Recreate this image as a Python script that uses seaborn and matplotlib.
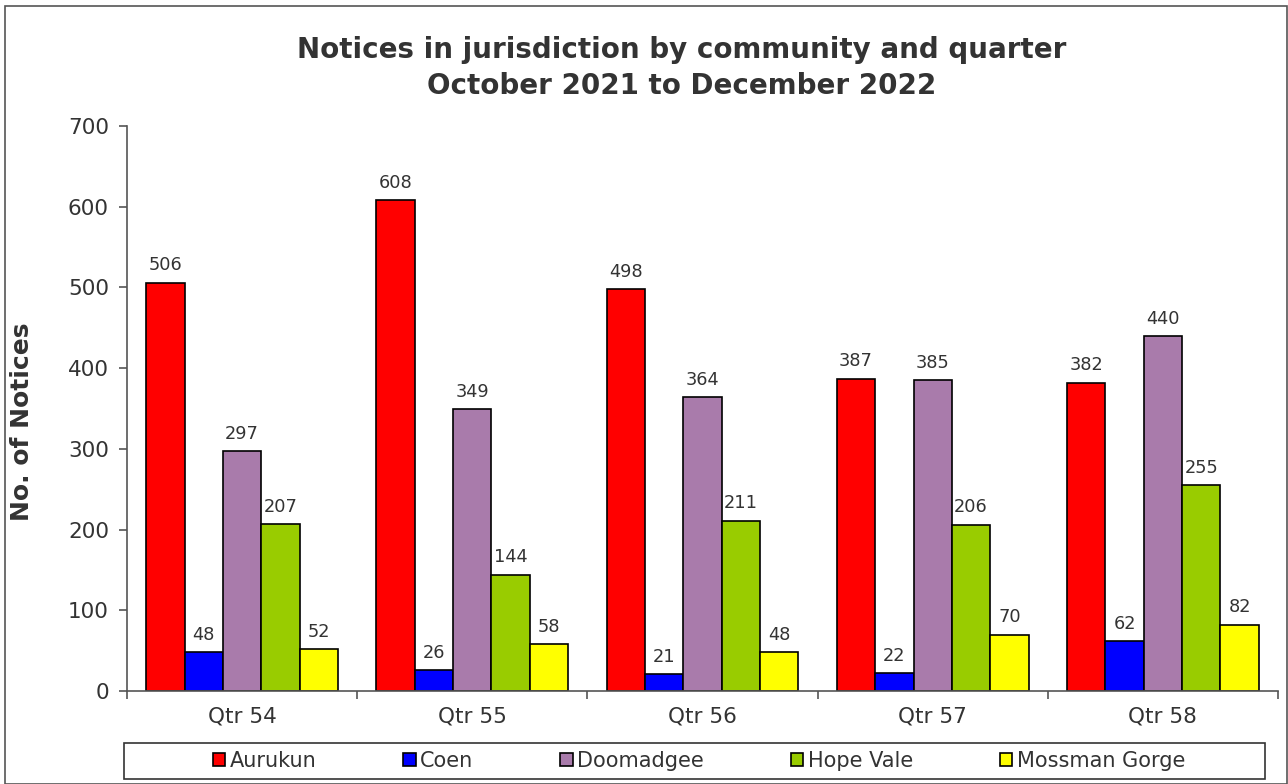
import matplotlib
matplotlib.use("Agg")
import matplotlib.pyplot as plt
import seaborn as sns
import pandas as pd
from matplotlib.patches import Rectangle

quarters = ["Qtr 54", "Qtr 55", "Qtr 56", "Qtr 57", "Qtr 58"]
communities = ["Aurukun", "Coen", "Doomadgee", "Hope Vale", "Mossman Gorge"]
aurukun = [506, 608, 498, 387, 382]
coen = [48, 26, 21, 22, 62]
doomadgee = [297, 349, 364, 385, 440]
hope_vale = [207, 144, 211, 206, 255]
mossman_gorge = [52, 58, 48, 70, 82]
colors = ["#FF0000", "#0000FF", "#A97BAB", "#99CC00", "#FFFF00"]

series = [aurukun, coen, doomadgee, hope_vale, mossman_gorge]
rows = []
for name, vals in zip(communities, series):
    for q, v in zip(quarters, vals):
        rows.append({"Quarter": q, "Community": name, "Notices": v})
df = pd.DataFrame(rows)

sns.set_theme(style="white")
plt.rcParams["font.family"] = ["DejaVu Sans"]
txt = "#333333"

fig = plt.figure(figsize=(12.88, 7.84), dpi=100)
ax = fig.add_axes([127 / 1288, 1 - 691 / 784, (1278 - 127) / 1288, (691 - 126) / 784])

sns.barplot(data=df, x="Quarter", y="Notices", hue="Community", order=quarters,
            hue_order=communities, palette=colors, width=5 / 6, saturation=1,
            edgecolor="black", linewidth=1.2, ax=ax, legend=True, err_kws={"linewidth": 0})

for cont in ax.containers:
    ax.bar_label(cont, padding=6, fontsize=12.8, color=txt)

ax.set_ylim(0, 700)
ax.set_yticks(range(0, 701, 100))
ax.set_xlim(-0.5, 4.5)
ax.set_xlabel("")
ax.set_ylabel("No. of Notices", fontsize=18, fontweight="bold", color=txt)
ax.yaxis.set_label_coords(-93 / 1151, (691 - 422) / 565)
for s in ["top", "right"]:
    ax.spines[s].set_visible(False)
for s in ["left", "bottom"]:
    ax.spines[s].set_color("#555555")
    ax.spines[s].set_linewidth(1.2)

ax.tick_params(axis="y", which="major", direction="out", length=6, width=1.2, color="#555555",
               labelsize=15.5, labelcolor=txt, left=True, pad=7)
ax.set_xticks(range(5))
ax.set_xticklabels(quarters)
ax.tick_params(axis="x", which="major", length=0, labelsize=15.5, labelcolor=txt, pad=11)
ax.set_xticks([-0.5, 0.5, 1.5, 2.5, 3.5, 4.5], minor=True)
ax.tick_params(axis="x", which="minor", direction="out", length=6, width=1.2, color="#555555", bottom=True)

handles, labels = ax.get_legend_handles_labels()
ax.legend_.remove()
leg = fig.legend(handles, labels, loc="center", bbox_to_anchor=(699 / 1288, 1 - 761 / 784),
                 ncol=5, frameon=False, fontsize=15, handlelength=0.6, handleheight=0.6,
                 handletextpad=0.2, columnspacing=4.18, borderpad=0.0)
for t in leg.get_texts():
    t.set_color(txt)

fig.patches.append(Rectangle((124 / 1288, 1 - 779 / 784), (1265 - 124) / 1288, 36 / 784,
                             transform=fig.transFigure, fill=False, edgecolor="#333333", linewidth=1.2))

fig.text(682 / 1288, 1 - 68 / 784, "Notices in jurisdiction by community and quarter\nOctober 2021 to December 2022",
         ha="center", va="center", fontsize=20, fontweight="bold", color=txt, linespacing=1.32)

fig.patches.append(Rectangle((4.5 / 1288, 0), (1287 - 4.5) / 1288, 1 - 5.5 / 784,
                             transform=fig.transFigure, fill=False, edgecolor="#555555", linewidth=1.2))

fig.savefig("out.png", dpi=100)
